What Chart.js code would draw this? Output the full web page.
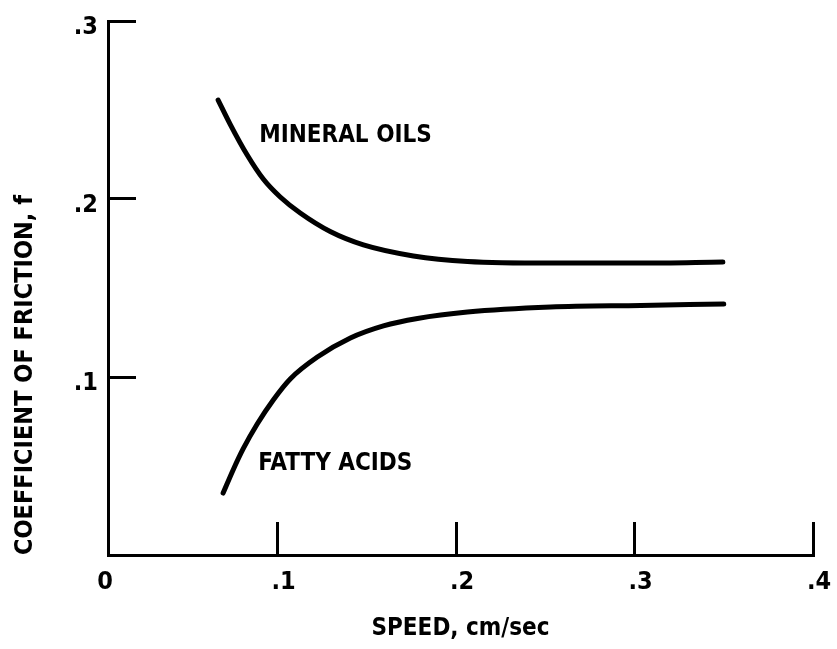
<!DOCTYPE html>
<html>
<head>
<meta charset="utf-8">
<title>Coefficient of friction vs speed</title>
<script src="https://cdn.jsdelivr.net/npm/chart.js@4.4.1/dist/chart.umd.min.js"></script>
<style>
  html, body { margin: 0; padding: 0; background: #fff; }
  #wrap { width: 837px; height: 649px; position: relative; }
</style>
</head>
<body>
<div id="wrap"><canvas id="frictionChart"></canvas></div>
<script>
// values
const xTicks = [0, 0.1, 0.2, 0.3, 0.4];
const yTicks = [0.1, 0.2, 0.3];

const mineralX = [0.0667, 0.0734, 0.0830, 0.0920, 0.1015, 0.1127, 0.1295, 0.1481, 0.1761, 0.2064, 0.253, 0.3035, 0.3495];
const mineralY = [0.2556, 0.2421, 0.2247, 0.2112, 0.2011, 0.1921, 0.1817, 0.1742, 0.1680, 0.1649, 0.1640, 0.1640, 0.1646];

const fattyX = [0.0695, 0.0751, 0.0807, 0.0886, 0.0976, 0.1071, 0.1223, 0.1408, 0.1593, 0.1784, 0.2064, 0.253, 0.3035, 0.3500];
const fattyY = [0.0348, 0.0478, 0.0596, 0.0736, 0.0871, 0.0989, 0.1112, 0.1219, 0.1287, 0.1329, 0.1365, 0.1393, 0.1402, 0.1410];

const curveLabels = [
  { text: 'MINERAL OILS', x: 0.0897, y: 0.232 },
  { text: 'FATTY ACIDS', x: 0.0892, y: 0.0478 }
];

const FONT = "'DejaVu Sans Condensed', 'Liberation Sans Narrow', sans-serif";
const toPoints = (xs, ys) => xs.map((x, i) => ({ x, y: ys[i] }));
const tickText = v => v === 0 ? '0' : '.' + Math.round(v * 10);

// drop the extra edge padding chart.js adds for the tick labels
const noEdgePad = s => { s.paddingTop = 0; s.paddingBottom = 0; s.paddingLeft = 0; s.paddingRight = 0; };

// curve annotations placed in data coordinates
const curveText = {
  id: 'curveText',
  afterDatasetsDraw(chart) {
    const { ctx, scales: { x, y } } = chart;
    ctx.save();
    ctx.fillStyle = '#000';
    ctx.font = 'bold 24px ' + FONT;
    ctx.textAlign = 'left';
    ctx.textBaseline = 'alphabetic';
    curveLabels.forEach(l => ctx.fillText(l.text, x.getPixelForValue(l.x), y.getPixelForValue(l.y)));
    ctx.restore();
  }
};

const lineStyle = {
  borderColor: '#000',
  borderWidth: 5,
  borderCapStyle: 'round',
  borderJoinStyle: 'round',
  pointRadius: 0,
  fill: false,
  cubicInterpolationMode: 'monotone'
};

new Chart(document.getElementById('frictionChart'), {
  type: 'line',
  data: {
    datasets: [
      { label: 'Mineral oils', data: toPoints(mineralX, mineralY), ...lineStyle },
      { label: 'Fatty acids', data: toPoints(fattyX, fattyY), ...lineStyle }
    ]
  },
  options: {
    responsive: true,
    maintainAspectRatio: false,
    animation: false,
    layout: { padding: { left: 0, right: 24, top: 21, bottom: 0 } },
    plugins: { legend: { display: false }, tooltip: { enabled: false } },
    scales: {
      x: {
        type: 'linear',
        min: 0.005,
        max: 0.4,
        afterBuildTicks: s => { s.ticks = xTicks.map(v => ({ value: v })); },
        afterFit: s => { s.height = 94; noEdgePad(s); },
        border: { display: true, color: '#000', width: 3 },
        grid: {
          drawOnChartArea: false,
          drawTicks: true,
          tickLength: -33,
          lineWidth: 3,
          color: c => (c.tick && c.tick.value === 0) ? 'rgba(0,0,0,0)' : '#000'
        },
        ticks: {
          autoSkip: false,
          maxRotation: 0,
          padding: 45,
          labelOffset: 6,
          color: '#000',
          font: { family: FONT, size: 25, weight: 'bold' },
          callback: tickText
        },
        title: {
          display: true,
          text: 'SPEED, cm/sec',
          color: '#000',
          font: { family: FONT, size: 24, weight: 'bold' },
          padding: { top: 0, bottom: 6 }
        }
      },
      y: {
        type: 'linear',
        min: 0,
        max: 0.3,
        afterBuildTicks: s => { s.ticks = yTicks.map(v => ({ value: v })); },
        afterFit: s => { s.width = 108; noEdgePad(s); },
        border: { display: true, color: '#000', width: 3 },
        grid: {
          drawOnChartArea: false,
          drawTicks: true,
          tickLength: -28,
          lineWidth: 3,
          color: '#000'
        },
        ticks: {
          autoSkip: false,
          padding: 38,
          labelOffset: 6,
          color: '#000',
          font: { family: FONT, size: 25, weight: 'bold' },
          callback: tickText
        },
        title: {
          display: true,
          text: 'COEFFICIENT OF FRICTION, f',
          align: 'start',
          color: '#000',
          font: { family: FONT, size: 25, weight: 'bold' },
          padding: { top: 10, bottom: 0 }
        }
      }
    }
  },
  plugins: [curveText]
});
</script>
</body>
</html>
